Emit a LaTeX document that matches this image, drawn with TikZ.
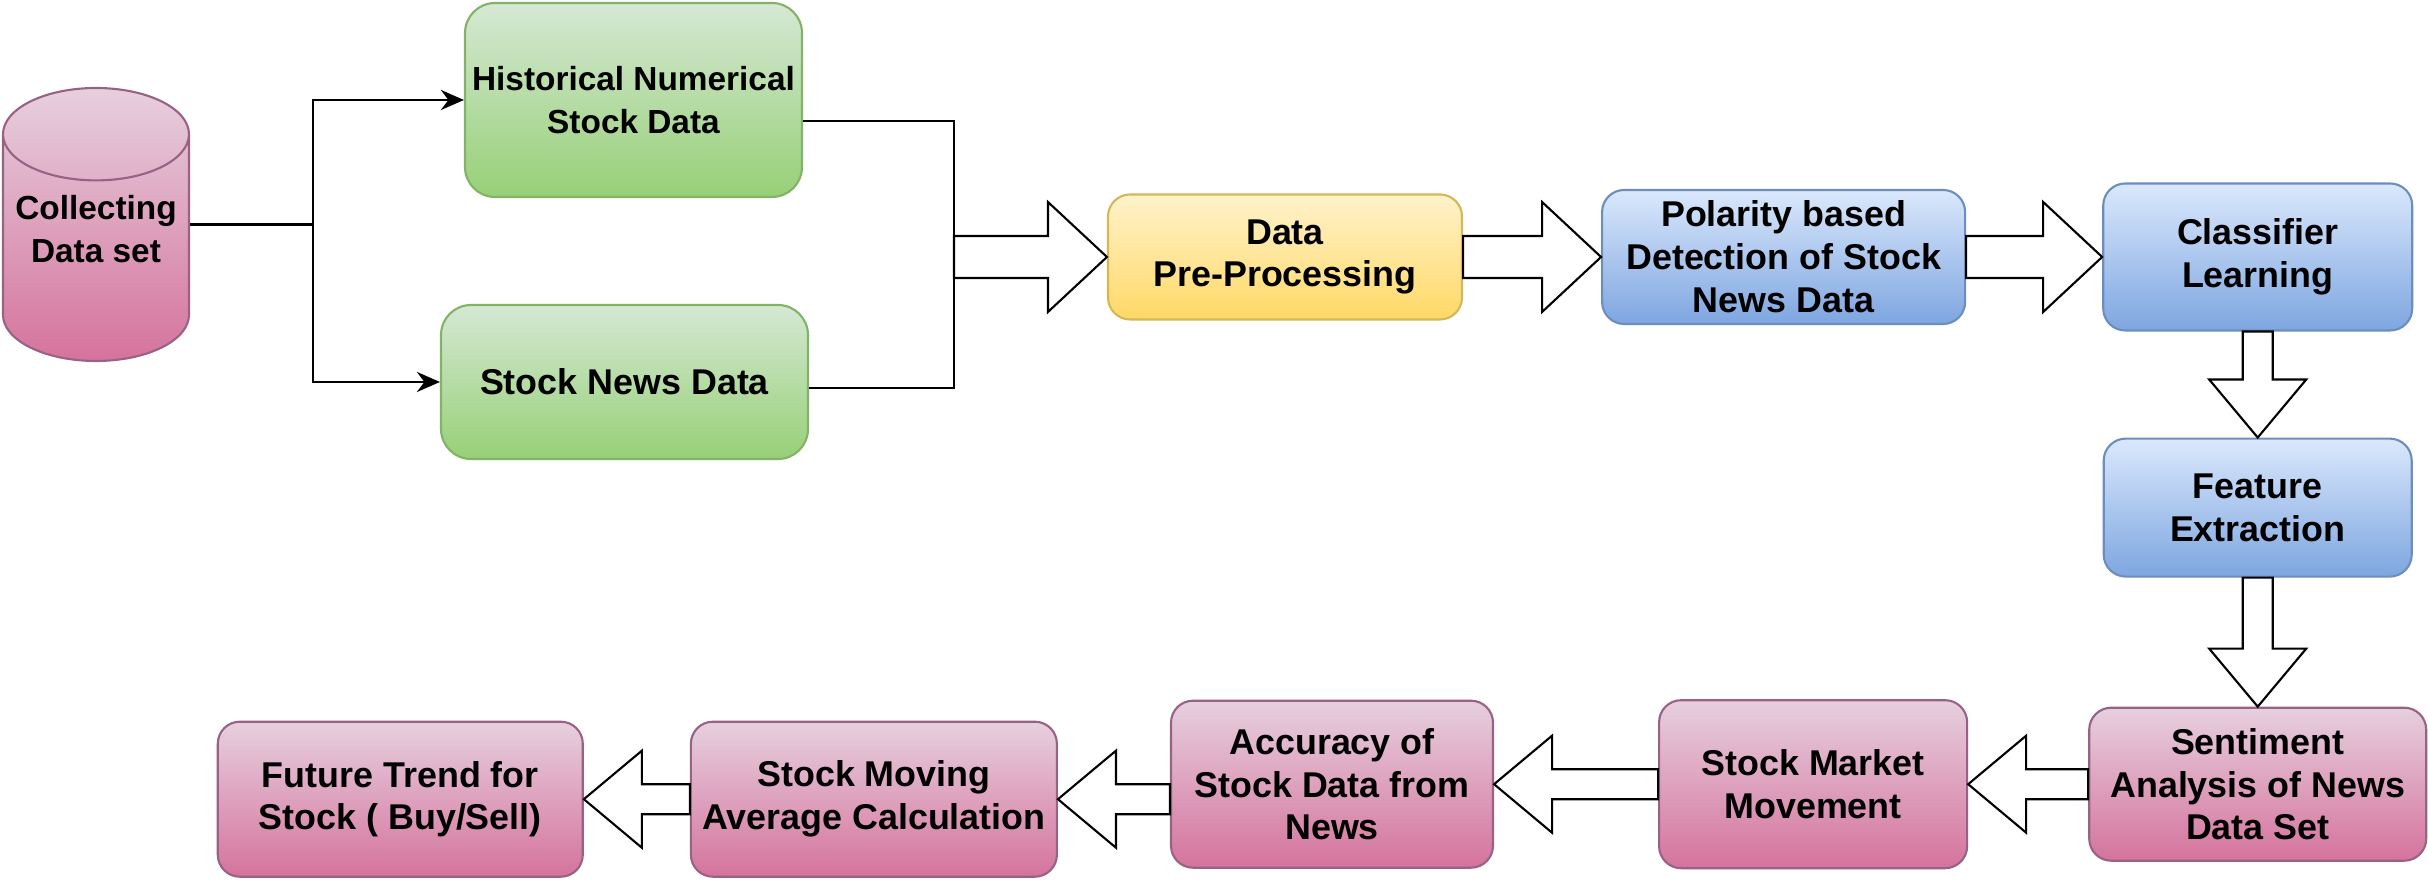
\documentclass[tikz,border=0pt]{standalone}
\usepackage{fontspec}
\setmainfont{Liberation Sans}
\usetikzlibrary{arrows.meta,positioning,shapes.geometric,calc}
\definecolor{greenA}{HTML}{D5E8D4}
\definecolor{greenB}{HTML}{97D077}
\definecolor{greenL}{HTML}{82B366}
\definecolor{yelA}{HTML}{FFF2CC}
\definecolor{yelB}{HTML}{FFD966}
\definecolor{yelL}{HTML}{D6B656}
\definecolor{blueA}{HTML}{DAE8FC}
\definecolor{blueB}{HTML}{7EA6E0}
\definecolor{blueL}{HTML}{6C8EBF}
\definecolor{pinkA}{HTML}{E6D0DE}
\definecolor{pinkB}{HTML}{D5739D}
\definecolor{pinkL}{HTML}{996185}
\tikzset{
  box/.style={rectangle, rounded corners=2.2mm, line width=0.6pt, align=center,
              inner sep=1pt, font=\fontsize{10.2}{12.2}\selectfont\bfseries},
  src/.style={box, top color=greenA, bottom color=greenB, draw=greenL, rounded corners=3mm},
  prep/.style={box, top color=yelA, bottom color=yelB, draw=yelL},
  learn/.style={box, top color=blueA, bottom color=blueB, draw=blueL},
  result/.style={box, top color=pinkA, bottom color=pinkB, draw=pinkL},
  store/.style={cylinder, shape border rotate=90, aspect=0.5, line width=0.6pt,
                top color=pinkA, bottom color=pinkB, draw=pinkL, align=center,
                font=\fontsize{9.5}{12.2}\selectfont\bfseries},
  ln/.style={line width=0.8pt},
  fl/.style={ln, -{Stealth[length=2.3mm,width=2mm]}},
  flex/.style n args={3}{draw=black, fill=white, line width=0.6pt,
    to path={let \p1=(\tikztostart), \p2=(\tikztotarget),
      \n1={atan2(\y2-\y1,\x2-\x1)}, \n2={veclen(\x2-\x1,\y2-\y1)-#3} in
      ($(\p1)+(\n1+90:#1)$) -- ($(\p1)+(\n1:\n2)+(\n1+90:#1)$)
      -- ($(\p1)+(\n1:\n2)+(\n1+90:#2)$) -- (\p2)
      -- ($(\p1)+(\n1:\n2)+(\n1-90:#2)$) -- ($(\p1)+(\n1:\n2)+(\n1-90:#1)$)
      -- ($(\p1)+(\n1-90:#1)$) -- cycle}},
  flexbig/.style={flex={2.1mm}{5.5mm}{5.9mm}},
  flexsm/.style={flex={1.5mm}{4.85mm}{5.8mm}}
}
\begin{document}
\begin{tikzpicture}[x=0.1mm, y=-0.1mm]
  \useasboundingbox (0,0) rectangle (2428,881);
  % sources
  \node[store, minimum width=18.6mm, minimum height=27.3mm, text depth=6mm,
        anchor=shape center] (cds) at (96,224.5) {Collecting\\Data set};
  \node[src, minimum width=33.7mm, minimum height=19.4mm,
        font=\fontsize{9.5}{12.2}\selectfont\bfseries] (hist) at (633.5,100) {Historical Numerical\\Stock Data};
  \node[src, minimum width=36.7mm, minimum height=15.4mm] (news) at (624.5,382) {Stock News Data};
  % top row
  \node[prep, minimum width=35.4mm, minimum height=12.5mm] (pre) at (1285,257) {Data\\Pre-Processing};
  \node[learn, right=13.8mm of pre, minimum width=36.3mm, minimum height=13.4mm] (pol) {Polarity based\\Detection of Stock\\News Data};
  \node[learn, right=13.6mm of pol, minimum width=30.9mm, minimum height=14.7mm] (cls) {Classifier\\Learning};
  \node[learn, below=10.6mm of cls, minimum width=30.8mm, minimum height=13.8mm] (feat) {Feature\\Extraction};
  % bottom row
  \node[result, below=12.9mm of feat, minimum width=33.7mm, minimum height=15.3mm] (sent) {Sentiment\\Analysis of News\\Data Set};
  \node[result, left=12mm of sent, minimum width=30.8mm, minimum height=16.8mm] (mkt) {Stock Market\\Movement};
  \node[result, left=16.4mm of mkt, minimum width=32.2mm, minimum height=16.7mm] (acc) {Accuracy of\\Stock Data from\\News};
  \node[result, left=11.2mm of acc, yshift=-1.5mm, minimum width=36.6mm, minimum height=15.5mm] (mov) {Stock Moving\\Average Calculation};
  \node[result, left=10.6mm of mov, minimum width=36.5mm, minimum height=15.5mm] (fut) {Future Trend for\\Stock ( Buy/Sell)};
  % split and merge
  \coordinate (ce) at (cds.east |- cds.shape center);
  \coordinate (sp) at ([xshift=12.3mm]ce);
  \coordinate (jn) at ([xshift=-15.3mm]pre.west);
  \draw[ln] (ce) -- (sp);
  \draw[fl] (sp) |- (hist.west);
  \draw[fl] (sp) |- (news.west);
  \draw[ln] ([yshift=-2.1mm]hist.east) -| (jn);
  \draw[ln] ([yshift=-0.6mm]news.east) -| (jn);
  % block arrows
  \draw[flexbig] (jn) to (pre.west);
  \draw[flexbig] (pre.east) to (pol.west);
  \draw[flexbig] (pol.east) to (cls.west);
  \draw[flexsm] (cls.south) to (feat.north);
  \draw[flexsm] (feat.south) to (sent.north);
  \draw[flexsm] (sent.west) to (mkt.east);
  \draw[flexsm] (mkt.west) to (acc.east);
  \draw[flexsm] (acc.west |- mov.east) to (mov.east);
  \draw[flexsm] (mov.west) to (fut.east);
\end{tikzpicture}
\end{document}
